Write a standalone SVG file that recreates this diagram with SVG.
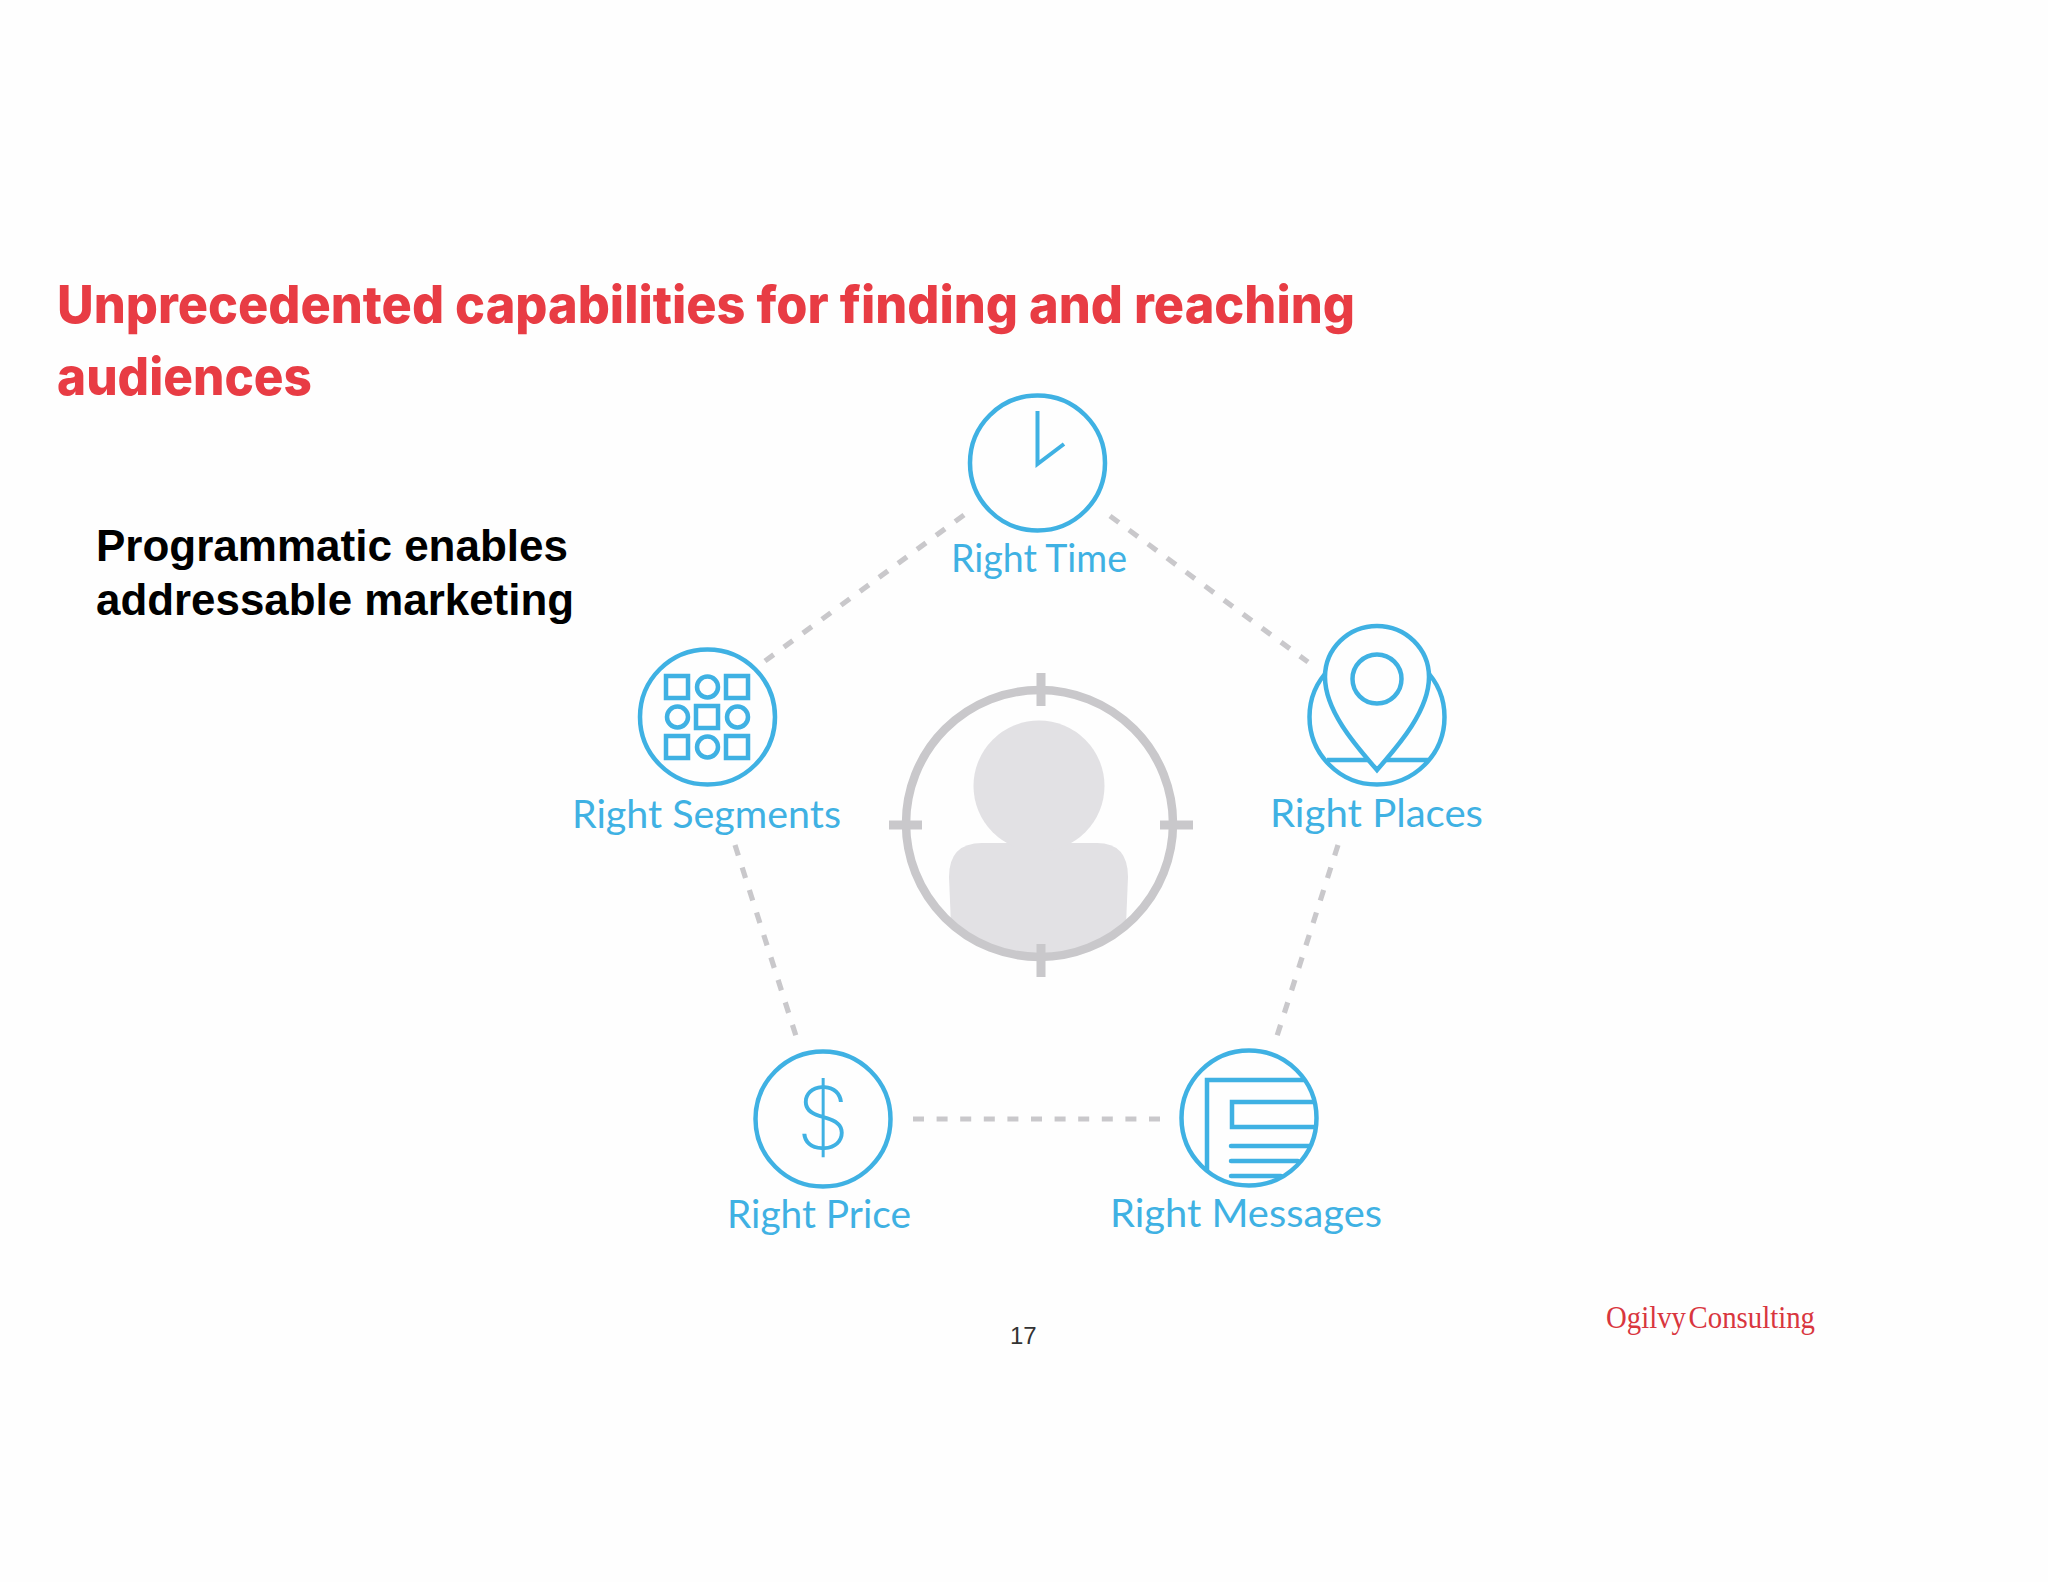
<svg xmlns="http://www.w3.org/2000/svg" width="2048" height="1582" viewBox="0 0 2048 1582">
<style>
.ic{fill:none;stroke:#3fb1e3;stroke-width:4.5}
.ig{fill:none;stroke:#3fb1e3;stroke-width:4.5}
.lb{font-family:"Lato","Liberation Sans",sans-serif;font-size:38px;fill:#3fb1e3}
.dash{fill:none;stroke:#c9c8cb;stroke-width:5.2;stroke-dasharray:11 12.6}
.tk{stroke:#c9c8cb;stroke-width:9}
.ti{font-family:"Inter","Liberation Sans",sans-serif;font-weight:800;font-size:52px;fill:#e83c44}
.bd{font-family:"Liberation Sans",sans-serif;font-weight:700;font-size:44px;fill:#000}
</style>
<rect width="2048" height="1582" fill="#fefefe"/>
<g id="title">
<text class="ti" x="57" y="323" textLength="1298" lengthAdjust="spacingAndGlyphs">Unprecedented capabilities for finding and reaching</text>
<text class="ti" x="57" y="395" textLength="255" lengthAdjust="spacingAndGlyphs">audiences</text>
</g>
<g id="subtitle">
<text class="bd" x="96" y="561" textLength="472" lengthAdjust="spacingAndGlyphs">Programmatic enables</text>
<text class="bd" x="96" y="615" textLength="478" lengthAdjust="spacingAndGlyphs">addressable marketing</text>
</g>
<g id="connectors">
<line class="dash" x1="964" y1="515" x2="765" y2="661"/>
<line class="dash" x1="1110" y1="516" x2="1308" y2="662"/>
<line class="dash" x1="735" y1="845" x2="796" y2="1036"/>
<line class="dash" x1="1338" y1="845" x2="1277" y2="1036"/>
<line class="dash" x1="913" y1="1119" x2="1162" y2="1119"/>
</g>
<g id="target">
<path fill="#e2e1e4" d="M951 925L949 877Q949 843 982 843L1097 843Q1128 843 1128 877L1126 925A135 135 0 0 1 951 925Z"/>
<circle cx="1039" cy="786" r="65.5" fill="#e2e1e4"/>
<circle cx="1039.500" cy="823.500" r="133.500" fill="none" stroke="#c9c8cb" stroke-width="8.500"/>
<line class="tk" x1="1041" y1="673" x2="1041" y2="706"/>
<line class="tk" x1="1041" y1="944" x2="1041" y2="977"/>
<line class="tk" x1="889" y1="825" x2="922" y2="825"/>
<line class="tk" x1="1160" y1="825" x2="1193" y2="825"/>
</g>
<g id="right-time">
<circle class="ic" cx="1037.500" cy="463" r="67.500"/>
<path class="ic" style="stroke-width:4" d="M1037.500 411V464L1064 444"/>
<text class="lb" x="951" y="572" textLength="176" lengthAdjust="spacingAndGlyphs">Right Time</text>
</g>
<g id="right-segments">
<circle class="ic" cx="707.500" cy="717" r="67.500"/>
<rect class="ig" x="666" y="676" width="22" height="22"/><circle class="ig" cx="707.500" cy="687" r="10.500"/><rect class="ig" x="726" y="676" width="22" height="22"/>
<circle class="ig" cx="677.500" cy="717" r="10.500"/><rect class="ig" x="696" y="706" width="22" height="22"/><circle class="ig" cx="737.500" cy="717" r="10.500"/>
<rect class="ig" x="666" y="736" width="22" height="22"/><circle class="ig" cx="707.500" cy="747" r="10.500"/><rect class="ig" x="726" y="736" width="22" height="22"/>
<text class="lb" x="572" y="828" textLength="269" lengthAdjust="spacingAndGlyphs">Right Segments</text>
</g>
<g id="right-places">
<circle class="ic" cx="1377" cy="717" r="67.500"/>
<path class="ig" d="M1327 760H1370M1384 760H1428"/>
<path class="ic" style="fill:#fefefe" d="M1377 770C1358 748 1325 712 1325 677A52 51 0 0 1 1429 677C1429 712 1396 748 1377 770Z"/>
<circle class="ig" cx="1377" cy="679" r="24.500"/>
<text class="lb" x="1270" y="827" textLength="213" lengthAdjust="spacingAndGlyphs">Right Places</text>
</g>
<g id="right-price">
<circle class="ic" cx="823" cy="1119" r="67.500"/>
<text x="823" y="1149" text-anchor="middle" font-family="Inter,'Liberation Sans',sans-serif" font-weight="200" font-size="86" fill="#3fb1e3">$</text>
<text class="lb" x="727" y="1228" textLength="184" lengthAdjust="spacingAndGlyphs">Right Price</text>
</g>
<g id="right-messages">
<circle class="ic" cx="1249" cy="1118" r="67.500"/>
<path class="ic" d="M1305 1080H1207V1170"/>
<path class="ic" d="M1316 1102H1232V1127H1317"/>
<path class="ic" d="M1231 1146H1309M1231 1161H1298M1231 1176H1281" stroke-linecap="round"/>
<text class="lb" x="1110" y="1227" textLength="272" lengthAdjust="spacingAndGlyphs">Right Messages</text>
</g>
<g id="footer">
<text x="1010" y="1344" font-family="Liberation Sans,sans-serif" font-size="24" fill="#333">17</text>
<text x="1606" y="1328" font-family="Liberation Serif,serif" font-size="31" fill="#d9363e" textLength="209" lengthAdjust="spacingAndGlyphs" word-spacing="-5">Ogilvy Consulting</text>
</g>
</svg>
